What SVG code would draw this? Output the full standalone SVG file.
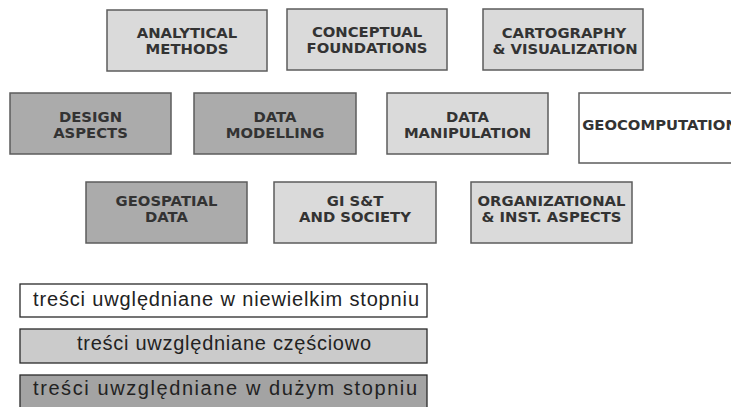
<svg xmlns="http://www.w3.org/2000/svg" width="731" height="407" viewBox="0 0 731 407">
<style>
.box{stroke:#5c5c5c;stroke-width:1.5}
.light{fill:#dadada}
.dark{fill:#ababab}
.white{fill:#ffffff}
.lbl{font-family:"DejaVu Sans",Verdana,sans-serif;font-weight:bold;font-size:14.8px;fill:#333333;text-anchor:middle}
.lg{stroke:#2a2a2a;stroke-width:1.3}
.lgt{font-family:"Liberation Sans",Arial,sans-serif;font-size:20px;fill:#222222}
</style>
<rect width="731" height="407" fill="#ffffff"/>
<g id="connectors"/>
<g id="analytical-methods"><rect class="box light" x="107" y="10" width="160" height="61"/><text class="lbl" x="187" y="37.5">ANALYTICAL</text><text class="lbl" x="187" y="53.5">METHODS</text></g>
<g id="conceptual-foundations"><rect class="box light" x="287" y="9" width="160" height="61"/><text class="lbl" x="367" y="37">CONCEPTUAL</text><text class="lbl" x="367" y="53">FOUNDATIONS</text></g>
<g id="cartography"><rect class="box light" x="483" y="9" width="160" height="61"/><text class="lbl" x="564" y="37.5">CARTOGRAPHY</text><text class="lbl" x="565" y="53.5">&amp; VISUALIZATION</text></g>
<g id="design-aspects"><rect class="box dark" x="10" y="93" width="161" height="61"/><text class="lbl" x="90.5" y="121.5">DESIGN</text><text class="lbl" x="90.5" y="137.5">ASPECTS</text></g>
<g id="data-modelling"><rect class="box dark" x="194" y="93" width="162" height="61"/><text class="lbl" x="275" y="121.5">DATA</text><text class="lbl" x="275" y="137.5">MODELLING</text></g>
<g id="data-manipulation"><rect class="box light" x="387" y="93" width="161" height="61"/><text class="lbl" x="467.5" y="121.5">DATA</text><text class="lbl" x="467.5" y="137.5">MANIPULATION</text></g>
<g id="geocomputation"><rect class="box white" x="579" y="93" width="162" height="70"/><text class="lbl" x="660" y="130">GEOCOMPUTATION</text></g>
<g id="geospatial-data"><rect class="box dark" x="86" y="182" width="161" height="61"/><text class="lbl" x="166.5" y="206">GEOSPATIAL</text><text class="lbl" x="166.5" y="222">DATA</text></g>
<g id="gist-society"><rect class="box light" x="274" y="182" width="162" height="61"/><text class="lbl" x="355" y="206">GI S&amp;T</text><text class="lbl" x="355" y="222">AND SOCIETY</text></g>
<g id="organizational"><rect class="box light" x="471" y="182" width="161" height="61"/><text class="lbl" x="551.5" y="206">ORGANIZATIONAL</text><text class="lbl" x="551.5" y="222">&amp; INST. ASPECTS</text></g>
<g id="legend-low"><rect class="lg" fill="#ffffff" x="20" y="284" width="407" height="33"/><text class="lgt" x="33" y="306" textLength="386" lengthAdjust="spacing">treści uwględniane w niewielkim stopniu</text></g>
<g id="legend-partial"><rect class="lg" fill="#cbcbcb" x="20" y="329" width="407" height="34"/><text class="lgt" x="77" y="350" textLength="294" lengthAdjust="spacing">treści uwzględniane częściowo</text></g>
<g id="legend-high"><rect class="lg" fill="#a3a3a3" x="20" y="375" width="407" height="45"/><text class="lgt" x="33" y="395" textLength="384" lengthAdjust="spacing">treści uwzględniane w dużym stopniu</text></g>
</svg>
